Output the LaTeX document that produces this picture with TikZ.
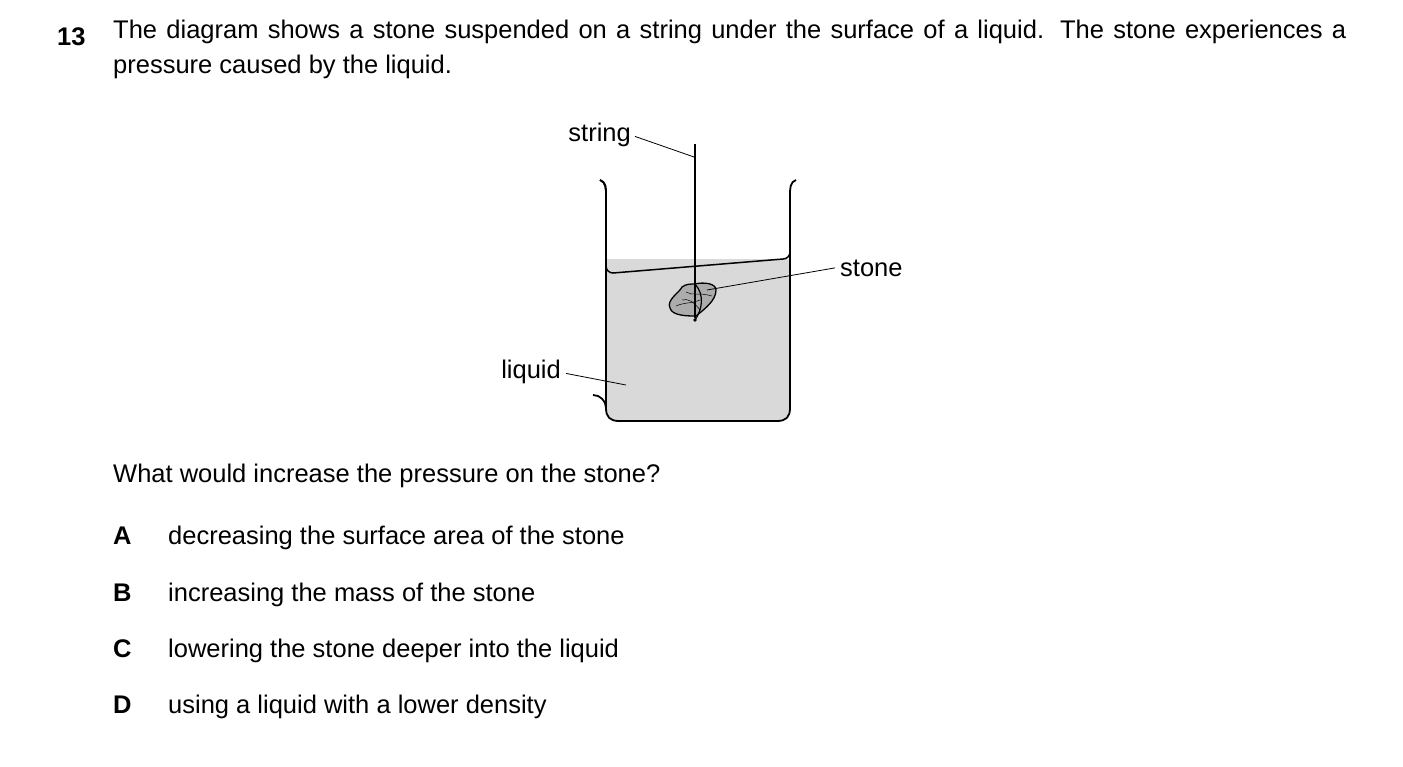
\documentclass[tikz,border=0pt]{standalone}
\usepackage{fontspec}
\setmainfont{Liberation Sans}
\begin{document}
\begin{tikzpicture}[x=1pt,y=-1pt,
  txt/.style={inner sep=0pt,font=\fontsize{25.5}{35}\selectfont},
  lbl/.style={txt},
  lead/.style={line width=0.8pt},
  wall/.style={line width=1.8pt,line join=round}]
\useasboundingbox (0,0) rectangle (1403,766);
\node[txt,anchor=base west] (num) at (57,45) {\textbf{13}};
\node[txt,anchor=north west,text width=1233pt,align=justify] (intro) at (113,20)
 {The diagram shows a stone suspended on a string under the surface of a liquid. The stone experiences a pressure caused by the liquid.};
% liquid
\fill[gray!30] (606,259) -- (790,259) -- (790,408) arc[start angle=0,end angle=90,radius=13] -- (619,421) arc[start angle=90,end angle=180,radius=13] -- cycle;
\draw[line width=1.5pt] (606,266) arc[start angle=180,end angle=90,radius=7] -- (783,259) arc[start angle=90,end angle=0,radius=7];
% beaker
\draw[wall] (600,180) .. controls (606,182) and (606,188) .. (606,196) -- (606,408) arc[start angle=180,end angle=90,radius=-13] ;
\draw[wall] (600,180) .. controls (606,182) and (606,188) .. (606,196) -- (606,408) .. controls (606,417) and (610,421) .. (619,421) -- (777,421) .. controls (786,421) and (790,417) .. (790,408) -- (790,196) .. controls (790,188) and (790,182) .. (796,180);
% stone
\filldraw[fill=gray!65,draw=black,line width=1.3pt] (695,284) .. controls (703,282) and (716,283) .. (716,290) .. controls (716,300) and (706,308) .. (696,316) .. controls (688,316) and (672,316) .. (670,308) .. controls (666,300) and (680,292) .. (682,287) .. controls (686,284) and (690,284) .. (695,284) -- cycle;
\draw[line width=0.5pt] (676,306) .. controls (685,302) and (690,304) .. (700,300);
\draw[line width=0.5pt] (686,292) .. controls (692,296) and (698,292) .. (712,296);
\draw[line width=0.5pt] (682,300) .. controls (688,298) and (694,302) .. (700,310);
% string
\coordinate (stop) at (695,144);
\coordinate (sbot) at (695,320);
\draw[line width=1.5pt] (stop) -- (695,318);
\draw[line width=1.2pt] (695,284) .. controls (705,295) and (702,310) .. (sbot);
\fill (sbot) circle (1.8);
% labels
\node[lbl,anchor=base east] (lstring) at (631,141) {string};
\draw[lead] (lstring.east) ++(4,2) -- (694,157);
\node[lbl,anchor=base west] (lstone) at (840,276) {stone};
\draw[lead] (lstone.west) ++(-5,0) -- (707,290);
\node[lbl,anchor=base east] (lliquid) at (561,378) {liquid};
\draw[lead] (lliquid.east) ++(5,2) -- (626,385);
% question
\node[txt,anchor=base west] (q) at (113,482) {What would increase the pressure on the stone?};
\foreach \l/\t/\y in {A/decreasing the surface area of the stone/544,B/increasing the mass of the stone/601,C/lowering the stone deeper into the liquid/657,D/using a liquid with a lower density/713}{
  \node[txt,anchor=base west] (opt\l) at (113,\y) {\textbf{\l}};
  \node[txt,anchor=base west] (txt\l) at (168,\y) {\t};
}
\end{tikzpicture}
\end{document}
